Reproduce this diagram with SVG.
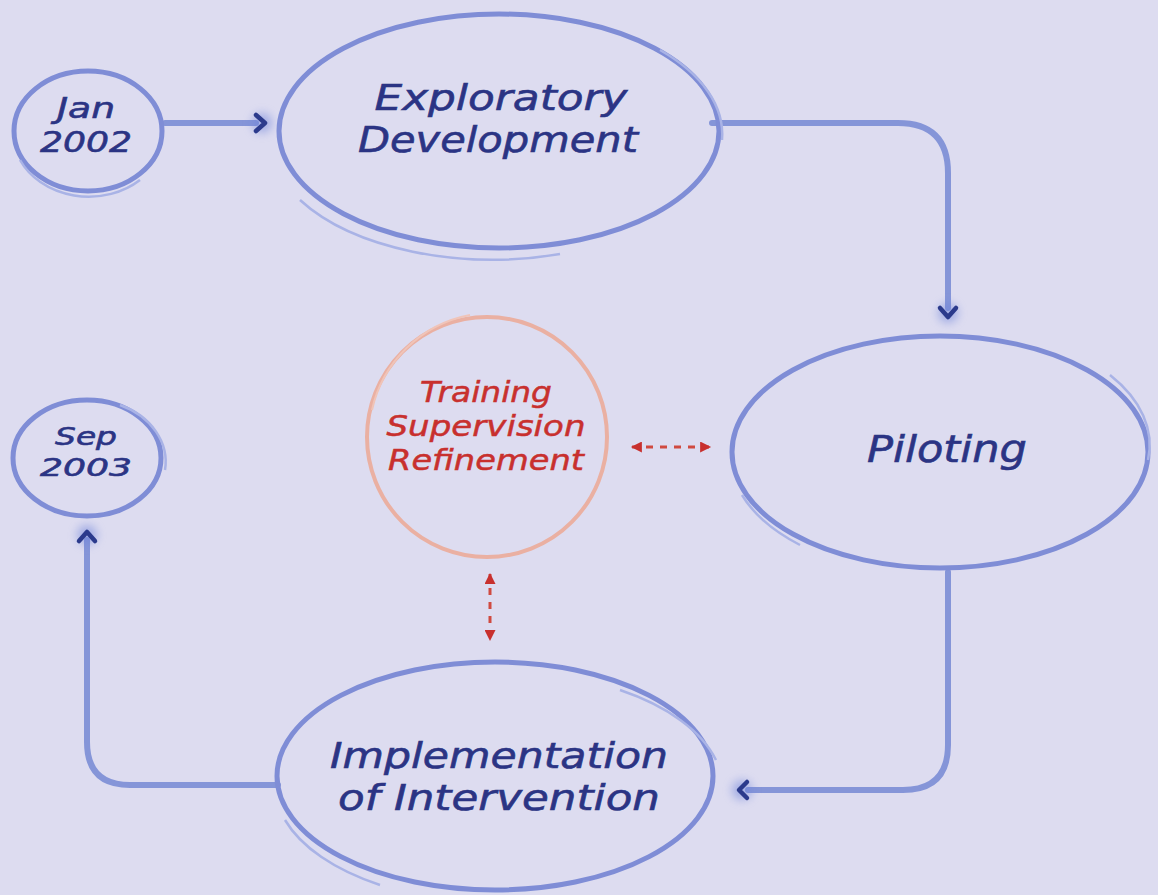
<svg xmlns="http://www.w3.org/2000/svg" width="1158" height="895" viewBox="0 0 1158 895">
<defs>
<style>
.bg{fill:#dddcf0}
.ring{fill:none;stroke:#7f8dd6;stroke-width:5}
.ring2{fill:none;stroke:#a9b3e6;stroke-width:2.5}
.lbl{font-family:"DejaVu Sans","Liberation Sans",sans-serif;font-style:italic;fill:#2b3484;text-anchor:middle;stroke:#2b3484;stroke-width:0.6}
.red{font-family:"DejaVu Sans","Liberation Sans",sans-serif;font-style:italic;fill:#c8302e;text-anchor:middle;stroke:#c8302e;stroke-width:0.5}
.conn{fill:none;stroke:#8595d8;stroke-width:6;stroke-linecap:round;stroke-linejoin:round}
.chev{fill:none;stroke:#2b3a8c;stroke-width:4.5;stroke-linecap:round;stroke-linejoin:round}
.dash{fill:none;stroke:#d04a40;stroke-width:3;stroke-dasharray:7 7}
.glow{fill:#6f84da;opacity:0.55;filter:url(#blur)}
</style>
<filter id="blur" x="-1" y="-1" width="3" height="3"><feGaussianBlur stdDeviation="5"/></filter>
<marker id="rh" viewBox="0 0 10 10" refX="9" refY="5" markerWidth="14" markerHeight="11" markerUnits="userSpaceOnUse" orient="auto-start-reverse">
<path d="M0,0 L10,5 L0,10 z" fill="#c8302e"/>
</marker>
</defs>
<rect class="bg" x="0" y="0" width="1158" height="895"/>

<g id="connectors">
<path class="conn" d="M165,123 L256,123"/>
<circle class="glow" cx="262" cy="123" r="10"/>
<path class="chev" d="M256,115 L265,123 L256,131"/>

<path class="conn" d="M712,123 L898,123 Q948,123 948,173 L948,308"/>
<circle class="glow" cx="948" cy="313" r="10"/>
<path class="chev" d="M940,308 L948,317 L956,308"/>

<path class="conn" d="M948,572 L948,745 Q948,790 903,790 L748,790"/>
<circle class="glow" cx="742" cy="790" r="10"/>
<path class="chev" d="M747,782 L739,790 L747,798"/>

<path class="conn" d="M278,785 L130,785 Q87,785 87,742 L87,540"/>
<circle class="glow" cx="87" cy="535" r="10"/>
<path class="chev" d="M79,541 L87,532 L95,541"/>

<path class="dash" d="M632,447 L710,447" marker-start="url(#rh)" marker-end="url(#rh)"/>
<path class="dash" d="M490,574 L490,640" marker-start="url(#rh)" marker-end="url(#rh)"/>
</g>

<g id="jan">
<ellipse class="ring" cx="88" cy="131" rx="74" ry="60"/>
<path class="ring2" d="M20,160 A76,64 0 0 0 140,180"/>
<text class="lbl" x="86" y="118" font-size="28" textLength="58" lengthAdjust="spacingAndGlyphs">Jan</text>
<text class="lbl" x="86" y="152" font-size="28" textLength="92" lengthAdjust="spacingAndGlyphs">2002</text>
</g>

<g id="exploratory">
<ellipse class="ring" cx="499" cy="131" rx="220" ry="117"/>
<path class="ring2" d="M300,200 A224,122 0 0 0 560,254"/>
<path class="ring2" d="M660,50 A224,122 0 0 1 722,140"/>
<text class="lbl" x="501" y="110" font-size="36" textLength="253" lengthAdjust="spacingAndGlyphs">Exploratory</text>
<text class="lbl" x="498" y="152" font-size="36" textLength="280" lengthAdjust="spacingAndGlyphs">Development</text>
</g>

<g id="piloting">
<ellipse class="ring" cx="940" cy="452" rx="208" ry="116"/>
<path class="ring2" d="M1110,375 A212,120 0 0 1 1148,460"/>
<path class="ring2" d="M742,495 A212,120 0 0 0 800,545"/>
<text class="lbl" x="947" y="462" font-size="38" textLength="160" lengthAdjust="spacingAndGlyphs">Piloting</text>
</g>

<g id="training">
<circle cx="487" cy="437" r="120" fill="none" stroke="#eab0a2" stroke-width="4"/>
<path d="M372,410 A124,124 0 0 1 470,315" fill="none" stroke="#f0c4b8" stroke-width="2"/>
<text class="red" x="486" y="402" font-size="29" textLength="132" lengthAdjust="spacingAndGlyphs">Training</text>
<text class="red" x="486" y="436" font-size="29" textLength="199" lengthAdjust="spacingAndGlyphs">Supervision</text>
<text class="red" x="486" y="470" font-size="29" textLength="196" lengthAdjust="spacingAndGlyphs">Refinement</text>
</g>

<g id="sep">
<ellipse class="ring" cx="87" cy="458" rx="74" ry="58"/>
<path class="ring2" d="M120,405 A76,62 0 0 1 165,470"/>
<text class="lbl" x="86" y="445" font-size="25" textLength="62" lengthAdjust="spacingAndGlyphs">Sep</text>
<text class="lbl" x="86" y="476" font-size="25" textLength="92" lengthAdjust="spacingAndGlyphs">2003</text>
</g>

<g id="implementation">
<ellipse class="ring" cx="495" cy="776" rx="218" ry="114"/>
<path class="ring2" d="M285,820 A222,118 0 0 0 380,885"/>
<path class="ring2" d="M620,690 A222,118 0 0 1 716,760"/>
<text class="lbl" x="499" y="768" font-size="36" textLength="338" lengthAdjust="spacingAndGlyphs">Implementation</text>
<text class="lbl" x="499" y="810" font-size="36" textLength="322" lengthAdjust="spacingAndGlyphs">of Intervention</text>
</g>
</svg>
